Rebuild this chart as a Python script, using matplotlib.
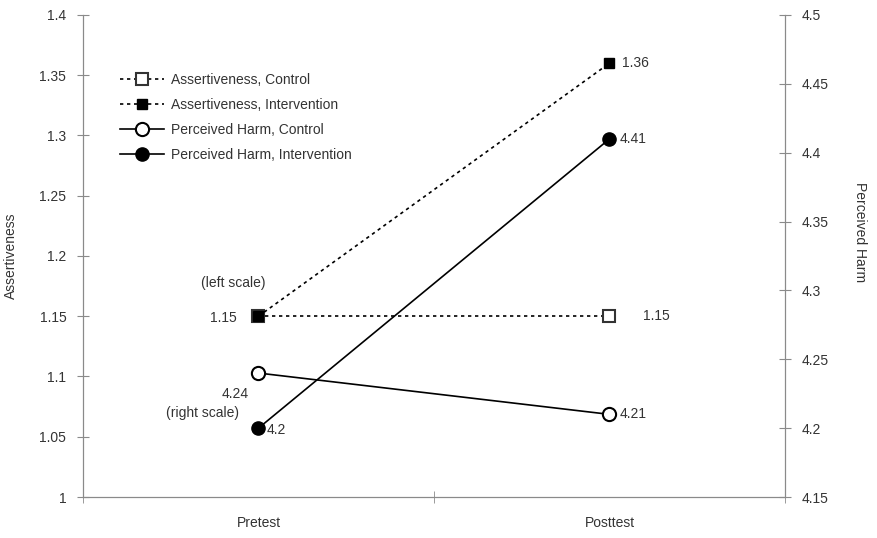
import numpy as np
import matplotlib.pyplot as plt
from matplotlib.ticker import FixedLocator

plt.rcParams['font.family'] = ['Liberation Sans', 'DejaVu Sans']

phases = ["Pretest", "Posttest"]
assert_control = [1.15, 1.15]
assert_interv = [1.15, 1.36]
harm_control = [4.24, 4.21]
harm_interv = [4.2, 4.41]

grey = "#8a8a8a"
txt = "#333333"
fs = 10

fig = plt.figure(figsize=(8.77, 5.38), dpi=100)
ax = fig.add_axes([0.0946, 0.0762, 0.8005, 0.896])
ax2 = ax.twinx()

x = np.arange(len(phases))

l1, = ax.plot(x, assert_control, color="black", lw=1.2, ls=(0, (2, 2.2)),
              marker="s", ms=9, mfc="white", mec="#333333", mew=1.5,
              label="Assertiveness, Control")
l2, = ax.plot(x, assert_interv, color="black", lw=1.2, ls=(0, (2, 2.2)),
              marker="s", ms=6.5, mfc="black", mec="black",
              label="Assertiveness, Intervention")
l3, = ax2.plot(x, harm_control, color="black", lw=1.2,
               marker="o", ms=9.5, mfc="white", mec="black", mew=1.5,
               label="Perceived Harm, Control")
l4, = ax2.plot(x, harm_interv, color="black", lw=1.2,
               marker="o", ms=9.5, mfc="black", mec="black",
               label="Perceived Harm, Intervention")

ax.set_xlim(-0.5, 1.5)
ax.set_ylim(1, 1.4)
ax2.set_ylim(4.15, 4.5)
ax.set_yticks(np.arange(1, 1.401, 0.05))
ax.set_yticklabels(["1", "1.05", "1.1", "1.15", "1.2", "1.25", "1.3", "1.35", "1.4"])
ax2.set_yticks(np.arange(4.15, 4.501, 0.05))
ax2.set_yticklabels(["4.15", "4.2", "4.25", "4.3", "4.35", "4.4", "4.45", "4.5"])

ax.set_xticks(x)
ax.set_xticklabels(phases)
ax.xaxis.set_minor_locator(FixedLocator([-0.5, 0.5, 1.5]))
ax.tick_params(axis="x", which="major", length=0, pad=14, labelsize=fs, labelcolor=txt)
ax.tick_params(axis="x", which="minor", length=8, direction="inout", color=grey)
ax.tick_params(axis="y", length=8, direction="inout", color=grey, labelsize=fs,
               labelcolor=txt, pad=8)
ax2.tick_params(axis="y", length=8, direction="inout", color=grey, labelsize=fs,
                labelcolor=txt, pad=8)

for a in (ax, ax2):
    a.spines["top"].set_visible(False)
    for s in ("left", "right", "bottom"):
        a.spines[s].set_color(grey)

ax.set_ylabel("Assertiveness", fontsize=fs, color=txt)
ax.yaxis.set_label_coords(-0.093, 0.5)
ax2.set_ylabel("Perceived Harm", fontsize=fs, color=txt, rotation=270, va="center")
ax2.yaxis.set_label_coords(1.107, 0.55)

# value labels
ax.annotate("1.15", (x[0], assert_interv[0]), xytext=(-16, -1), textcoords="offset points",
            ha="right", va="center", fontsize=fs, color=txt)
ax.annotate("(left scale)", (x[0], assert_interv[0]), xytext=(5, 24), textcoords="offset points",
            ha="right", va="center", fontsize=fs, color=txt)
ax.annotate("1.15", (x[1], assert_control[1]), xytext=(24, 0), textcoords="offset points",
            ha="left", va="center", fontsize=fs, color=txt)
ax.annotate("1.36", (x[1], assert_interv[1]), xytext=(9, 0), textcoords="offset points",
            ha="left", va="center", fontsize=fs, color=txt)
ax2.annotate("4.24", (x[0], harm_control[0]), xytext=(-17, -15), textcoords="offset points",
             ha="center", va="center", fontsize=fs, color=txt)
ax2.annotate("(right scale)", (x[0], harm_interv[0]), xytext=(-14, 11), textcoords="offset points",
             ha="right", va="center", fontsize=fs, color=txt)
ax2.annotate("4.2", (x[0], harm_interv[0]), xytext=(6, -1), textcoords="offset points",
             ha="left", va="center", fontsize=fs, color=txt)
ax2.annotate("4.21", (x[1], harm_control[1]), xytext=(7, 0), textcoords="offset points",
             ha="left", va="center", fontsize=fs, color=txt)
ax2.annotate("4.41", (x[1], harm_interv[1]), xytext=(7, 0), textcoords="offset points",
             ha="left", va="center", fontsize=fs, color=txt)

leg = ax2.legend(handles=[l1, l2, l3, l4], loc="upper left", bbox_to_anchor=(0.035, 0.905),
                 frameon=False, fontsize=fs, handlelength=3.2, handletextpad=0.5,
                 labelspacing=0.78, labelcolor=txt)

fig.savefig("out.png", dpi=100)
